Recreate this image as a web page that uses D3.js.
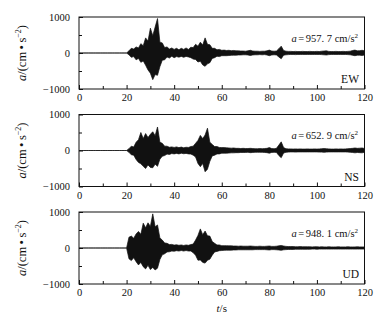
<!DOCTYPE html>
<html>
<head>
<meta charset="utf-8">
<script src="https://cdn.jsdelivr.net/npm/d3@7"></script>
<style>
  body { margin: 0; background: #fff; }
  text { font-family: "Liberation Serif", "DejaVu Serif", serif; fill: #111; }
</style>
</head>
<body>
<svg id="chart"></svg>
<script>
// sample times (s), one envelope value per second
const time = d3.range(0, 121);

// envelope of the records, cm/s^2
const ewHi = [0,0,0,0,0,0,0,0,0,0,0,0,0,0,0,0,0,0,0,0,0,
  60,130,110,170,140,260,200,420,330,690,480,720,957,300,280,150,170,110,140,100,
  130,90,130,100,140,100,160,150,240,190,300,220,420,240,230,130,130,90,100,75,
  80,70,75,65,70,60,60,55,55,50,60,75,55,50,50,45,50,50,60,80,
  55,50,55,120,190,70,50,45,45,40,45,40,40,45,40,40,45,40,40,45,
  40,50,55,60,45,40,40,45,40,40,45,40,45,50,70,80,60,65,75,60];
const ewLo = [0,0,0,0,0,0,0,0,0,0,0,0,0,0,0,0,0,0,0,0,0,
  -50,-120,-100,-190,-150,-260,-220,-340,-470,-560,-740,-600,-620,-380,-200,-190,-110,-140,-90,-130,
  -100,-115,-95,-120,-95,-110,-130,-170,-180,-250,-230,-330,-370,-300,-270,-150,-130,-90,-100,-75,
  -75,-75,-70,-65,-60,-60,-55,-55,-50,-50,-55,-70,-55,-50,-50,-45,-50,-45,-55,-75,
  -55,-50,-55,-110,-160,-60,-50,-45,-40,-40,-45,-40,-40,-40,-40,-40,-40,-40,-40,-40,
  -40,-45,-50,-55,-45,-40,-40,-40,-40,-40,-40,-40,-45,-50,-65,-75,-60,-60,-70,-55];

const nsHi = [0,0,0,0,0,0,0,0,0,0,0,0,0,0,0,0,0,0,0,0,0,
  50,120,100,230,300,500,330,470,360,450,520,410,653,230,200,120,120,90,100,85,
  100,80,95,75,90,85,110,120,200,280,420,330,430,620,230,170,110,110,85,80,
  80,75,70,65,70,60,60,55,60,55,55,60,55,50,50,55,50,55,60,80,
  55,50,60,150,240,80,50,45,45,40,45,40,45,40,40,45,40,40,45,40,
  45,50,55,50,45,40,40,45,40,45,40,45,50,55,60,70,60,65,70,55];
const nsLo = [0,0,0,0,0,0,0,0,0,0,0,0,0,0,0,0,0,0,0,0,0,
  -50,-120,-130,-250,-330,-370,-440,-500,-400,-470,-480,-380,-440,-240,-160,-140,-100,-110,-85,-95,
  -80,-95,-75,-90,-80,-95,-100,-130,-180,-360,-450,-360,-590,-520,-300,-150,-130,-95,-95,-75,
  -75,-75,-70,-65,-65,-60,-60,-55,-55,-55,-50,-60,-55,-50,-50,-50,-50,-55,-60,-75,
  -55,-50,-55,-140,-200,-70,-50,-45,-40,-40,-45,-40,-40,-40,-40,-40,-40,-40,-40,-40,
  -45,-45,-50,-45,-40,-40,-40,-40,-40,-40,-40,-40,-45,-50,-55,-65,-55,-60,-65,-50];

const udHi = [0,0,0,0,0,0,0,0,0,0,0,0,0,0,0,0,0,0,0,0,0,
  300,330,270,390,460,380,690,560,700,600,948,590,640,280,220,140,130,95,100,80,
  90,75,85,70,85,75,95,110,220,350,530,370,470,340,330,180,130,85,85,65,
  65,65,60,60,55,55,50,55,50,50,50,55,50,45,45,50,45,45,50,55,
  45,45,50,60,70,55,45,40,40,40,35,35,40,35,35,35,35,30,35,35,
  30,35,30,30,35,30,30,30,35,30,30,30,35,30,30,30,35,30,30,30];
const udLo = [0,0,0,0,0,0,0,0,0,0,0,0,0,0,0,0,0,0,0,0,0,
  -300,-350,-270,-380,-470,-400,-520,-580,-480,-600,-540,-610,-560,-320,-190,-160,-110,-105,-85,-90,
  -75,-85,-70,-85,-70,-85,-85,-130,-200,-340,-330,-400,-420,-340,-310,-200,-110,-95,-75,-70,
  -65,-60,-60,-60,-55,-55,-50,-50,-50,-50,-50,-50,-50,-45,-45,-45,-45,-45,-50,-55,
  -45,-45,-50,-55,-65,-50,-45,-40,-40,-40,-35,-35,-35,-35,-35,-35,-35,-30,-30,-35,
  -30,-30,-30,-30,-30,-30,-30,-30,-30,-30,-30,-30,-30,-30,-30,-30,-30,-30,-30,-30];

const components = ["EW", "NS", "UD"];
const peaks = ["957. 7", "652. 9", "948. 1"];
const xTicks = [0, 20, 40, 60, 80, 100, 120];
const xMinor = [10, 30, 50, 70, 90, 110];
const yTicks = [-1000, 0, 1000];
const yMinor = [-500, 500];

const series = [
  { hi: ewHi, lo: ewLo },
  { hi: nsHi, lo: nsLo },
  { hi: udHi, lo: udLo }
];

const width = 378, height = 323;
const left = 79, right = 364.5;
const panelH = 72;
const tops = [17, 114.5, 212];

const svg = d3.select('#chart').attr('width', width).attr('height', height);

const x = d3.scaleLinear().domain([0, 120]).range([left, right]);

series.forEach((s, i) => {
  const top = tops[i];
  const y = d3.scaleLinear().domain([-1000, 1000]).range([top + panelH, top]);
  const g = svg.append('g');

  const area = d3.area()
    .x((d, j) => x(time[j]))
    .y0((d, j) => y(s.lo[j]))
    .y1((d, j) => y(s.hi[j]));

  g.append('path')
    .datum(s.hi)
    .attr('d', area)
    .attr('fill', '#111')
    .attr('stroke', '#111')
    .attr('stroke-width', 0.7)
    .attr('stroke-linejoin', 'miter');

  // bottom axis, ticks pointing inward
  g.append('g')
    .attr('transform', `translate(0,${top + panelH})`)
    .call(d3.axisBottom(x).tickValues(xTicks).tickSizeInner(-4).tickSizeOuter(0).tickPadding(5));
  g.append('g')
    .attr('transform', `translate(0,${top + panelH})`)
    .call(d3.axisBottom(x).tickValues(xMinor).tickSizeInner(-3).tickSizeOuter(0).tickFormat(''));

  g.append('g')
    .attr('transform', `translate(${left},0)`)
    .call(d3.axisLeft(y).tickValues(yTicks).tickFormat(d3.format('d')).tickSizeInner(-4).tickSizeOuter(0).tickPadding(9));
  g.append('g')
    .attr('transform', `translate(${left},0)`)
    .call(d3.axisLeft(y).tickValues(yMinor).tickSizeInner(-3).tickSizeOuter(0).tickFormat(''));

  g.selectAll('.domain').remove();
  g.selectAll('.tick line').attr('stroke', '#111');
  g.selectAll('.tick text')
    .style('font-family', '"Liberation Serif", serif')
    .style('font-size', '10.5px')
    .attr('fill', '#222');

  g.append('rect')
    .attr('x', left).attr('y', top)
    .attr('width', right - left).attr('height', panelH)
    .attr('fill', 'none').attr('stroke', '#111').attr('stroke-width', 1);

  // peak annotation
  const ann = g.append('text')
    .attr('x', right - 6.5).attr('y', top + 24.5)
    .attr('text-anchor', 'end')
    .style('font-size', '10.5px');
  ann.append('tspan').style('font-style', 'italic').text('a');
  ann.append('tspan').attr('dx', 1.5).text('=');
  ann.append('tspan').attr('dx', 1.5).text(peaks[i] + ' cm/s');
  ann.append('tspan').attr('dy', -4).style('font-size', '7px').text('2');

  g.append('text')
    .attr('x', right - 5.5).attr('y', top + 66)
    .attr('text-anchor', 'end')
    .style('font-size', '11.5px')
    .text(components[i]);

  // y label
  const yl = g.append('text')
    .attr('transform', `translate(26,${top + panelH / 2}) rotate(-90)`)
    .attr('text-anchor', 'middle')
    .style('font-size', '12.5px')
    .attr('fill', '#444');
  yl.append('tspan').style('font-style', 'italic').text('a');
  yl.append('tspan').text('/(cm\u2009\u2022\u2009s');
  yl.append('tspan').attr('dy', -5).style('font-size', '8px').text('\u22122');
  yl.append('tspan').attr('dy', 5).text(')');
});

svg.append('text')
  .attr('x', x(60)).attr('y', 311.5)
  .attr('text-anchor', 'middle')
  .style('font-size', '11px')
  .html('<tspan font-style="italic">t</tspan>/s');
</script>
</body>
</html>
